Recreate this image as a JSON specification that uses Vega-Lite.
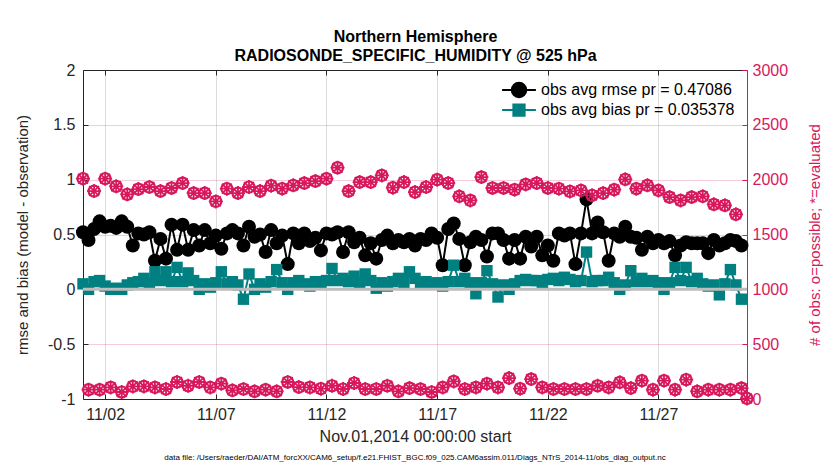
{
  "$schema": "https://vega.github.io/schema/vega-lite/v6.json",
  "width": 664,
  "height": 329,
  "autosize": {"type": "none"},
  "padding": {"left": 83, "top": 70, "right": 83, "bottom": 71},
  "background": "white",
  "config": {
    "font": "Liberation Sans",
    "view": {"stroke": null},
    "axis": {"labelFont": "Liberation Sans", "titleFont": "Liberation Sans"}
  },
  "title": {
    "text": "data file: /Users/raeder/DAI/ATM_forcXX/CAM6_setup/f.e21.FHIST_BGC.f09_025.CAM6assim.011/Diags_NTrS_2014-11/obs_diag_output.nc",
    "orient": "bottom",
    "anchor": "middle",
    "fontSize": 8,
    "fontWeight": "normal",
    "color": "#000000",
    "offset": 10
  },
  "data": {
    "values": [
      {"t": "2014-11-01T00:00:00Z", "rmse": 0.52, "bias": 0.05, "count": 2009},
      {"t": "2014-11-01T06:00:00Z", "rmse": 0.45, "bias": 0.0, "count": 85},
      {"t": "2014-11-01T12:00:00Z", "rmse": 0.55, "bias": 0.07, "count": 1896},
      {"t": "2014-11-01T18:00:00Z", "rmse": 0.62, "bias": 0.08, "count": 85},
      {"t": "2014-11-02T00:00:00Z", "rmse": 0.57, "bias": 0.03, "count": 2009},
      {"t": "2014-11-02T06:00:00Z", "rmse": 0.58, "bias": 0.0, "count": 106},
      {"t": "2014-11-02T12:00:00Z", "rmse": 0.56, "bias": 0.01, "count": 1939},
      {"t": "2014-11-02T18:00:00Z", "rmse": 0.62, "bias": 0.0, "count": 64},
      {"t": "2014-11-03T00:00:00Z", "rmse": 0.57, "bias": 0.04, "count": 1866},
      {"t": "2014-11-03T06:00:00Z", "rmse": 0.40, "bias": 0.06, "count": 115},
      {"t": "2014-11-03T12:00:00Z", "rmse": 0.51, "bias": 0.07, "count": 1914},
      {"t": "2014-11-03T18:00:00Z", "rmse": 0.50, "bias": 0.10, "count": 115},
      {"t": "2014-11-04T00:00:00Z", "rmse": 0.52, "bias": 0.06, "count": 1933},
      {"t": "2014-11-04T06:00:00Z", "rmse": 0.26, "bias": 0.16, "count": 106},
      {"t": "2014-11-04T12:00:00Z", "rmse": 0.46, "bias": 0.08, "count": 1896},
      {"t": "2014-11-04T18:00:00Z", "rmse": 0.28, "bias": 0.16, "count": 91},
      {"t": "2014-11-05T00:00:00Z", "rmse": 0.59, "bias": 0.07, "count": 1924},
      {"t": "2014-11-05T06:00:00Z", "rmse": 0.36, "bias": 0.20, "count": 155},
      {"t": "2014-11-05T12:00:00Z", "rmse": 0.59, "bias": 0.07, "count": 1969},
      {"t": "2014-11-05T18:00:00Z", "rmse": 0.36, "bias": 0.15, "count": 121},
      {"t": "2014-11-06T00:00:00Z", "rmse": 0.54, "bias": 0.08, "count": 1878},
      {"t": "2014-11-06T06:00:00Z", "rmse": 0.40, "bias": 0.0, "count": 155},
      {"t": "2014-11-06T12:00:00Z", "rmse": 0.54, "bias": 0.05, "count": 1878},
      {"t": "2014-11-06T18:00:00Z", "rmse": 0.42, "bias": 0.02, "count": 106},
      {"t": "2014-11-07T00:00:00Z", "rmse": 0.49, "bias": 0.06, "count": 1802},
      {"t": "2014-11-07T06:00:00Z", "rmse": 0.37, "bias": 0.16, "count": 140},
      {"t": "2014-11-07T12:00:00Z", "rmse": 0.51, "bias": 0.05, "count": 1918},
      {"t": "2014-11-07T18:00:00Z", "rmse": 0.54, "bias": 0.07, "count": 79},
      {"t": "2014-11-08T00:00:00Z", "rmse": 0.51, "bias": 0.04, "count": 1878},
      {"t": "2014-11-08T06:00:00Z", "rmse": 0.40, "bias": -0.09, "count": 91},
      {"t": "2014-11-08T12:00:00Z", "rmse": 0.57, "bias": 0.14, "count": 1933},
      {"t": "2014-11-08T18:00:00Z", "rmse": 0.48, "bias": 0.0, "count": 70},
      {"t": "2014-11-09T00:00:00Z", "rmse": 0.50, "bias": 0.05, "count": 1896},
      {"t": "2014-11-09T06:00:00Z", "rmse": 0.34, "bias": 0.02, "count": 85},
      {"t": "2014-11-09T12:00:00Z", "rmse": 0.54, "bias": 0.07, "count": 1945},
      {"t": "2014-11-09T18:00:00Z", "rmse": 0.42, "bias": 0.18, "count": 70},
      {"t": "2014-11-10T00:00:00Z", "rmse": 0.49, "bias": 0.06, "count": 1918},
      {"t": "2014-11-10T06:00:00Z", "rmse": 0.23, "bias": 0.0, "count": 155},
      {"t": "2014-11-10T12:00:00Z", "rmse": 0.51, "bias": 0.06, "count": 1948},
      {"t": "2014-11-10T18:00:00Z", "rmse": 0.42, "bias": 0.08, "count": 109},
      {"t": "2014-11-11T00:00:00Z", "rmse": 0.51, "bias": 0.05, "count": 1969},
      {"t": "2014-11-11T06:00:00Z", "rmse": 0.44, "bias": 0.03, "count": 106},
      {"t": "2014-11-11T12:00:00Z", "rmse": 0.47, "bias": 0.07, "count": 1987},
      {"t": "2014-11-11T18:00:00Z", "rmse": 0.355, "bias": 0.06, "count": 94},
      {"t": "2014-11-12T00:00:00Z", "rmse": 0.51, "bias": 0.08, "count": 2009},
      {"t": "2014-11-12T06:00:00Z", "rmse": 0.50, "bias": 0.19, "count": 121},
      {"t": "2014-11-12T12:00:00Z", "rmse": 0.52, "bias": 0.08, "count": 2109},
      {"t": "2014-11-12T18:00:00Z", "rmse": 0.34, "bias": 0.10, "count": 91},
      {"t": "2014-11-13T00:00:00Z", "rmse": 0.52, "bias": 0.07, "count": 1896},
      {"t": "2014-11-13T06:00:00Z", "rmse": 0.43, "bias": 0.12, "count": 146},
      {"t": "2014-11-13T12:00:00Z", "rmse": 0.47, "bias": 0.06, "count": 1978},
      {"t": "2014-11-13T18:00:00Z", "rmse": 0.31, "bias": 0.14, "count": 91},
      {"t": "2014-11-14T00:00:00Z", "rmse": 0.42, "bias": 0.08, "count": 1978},
      {"t": "2014-11-14T06:00:00Z", "rmse": 0.28, "bias": 0.01, "count": 91},
      {"t": "2014-11-14T12:00:00Z", "rmse": 0.45, "bias": 0.06, "count": 2039},
      {"t": "2014-11-14T18:00:00Z", "rmse": 0.49, "bias": 0.03, "count": 121},
      {"t": "2014-11-15T00:00:00Z", "rmse": 0.42, "bias": 0.07, "count": 1927},
      {"t": "2014-11-15T06:00:00Z", "rmse": 0.45, "bias": 0.10, "count": 70},
      {"t": "2014-11-15T12:00:00Z", "rmse": 0.43, "bias": 0.06, "count": 1978},
      {"t": "2014-11-15T18:00:00Z", "rmse": 0.46, "bias": 0.16, "count": 100},
      {"t": "2014-11-16T00:00:00Z", "rmse": 0.40, "bias": 0.10, "count": 1887},
      {"t": "2014-11-16T06:00:00Z", "rmse": 0.46, "bias": 0.06, "count": 91},
      {"t": "2014-11-16T12:00:00Z", "rmse": 0.45, "bias": 0.07, "count": 1933},
      {"t": "2014-11-16T18:00:00Z", "rmse": 0.51, "bias": 0.05, "count": 64},
      {"t": "2014-11-17T00:00:00Z", "rmse": 0.47, "bias": 0.06, "count": 2000},
      {"t": "2014-11-17T06:00:00Z", "rmse": 0.22, "bias": 0.03, "count": 106},
      {"t": "2014-11-17T12:00:00Z", "rmse": 0.55, "bias": 0.07, "count": 1969},
      {"t": "2014-11-17T18:00:00Z", "rmse": 0.60, "bias": 0.22, "count": 160},
      {"t": "2014-11-18T00:00:00Z", "rmse": 0.46, "bias": 0.07, "count": 1848},
      {"t": "2014-11-18T06:00:00Z", "rmse": 0.22, "bias": 0.10, "count": 91},
      {"t": "2014-11-18T12:00:00Z", "rmse": 0.43, "bias": 0.06, "count": 1811},
      {"t": "2014-11-18T18:00:00Z", "rmse": 0.48, "bias": -0.04, "count": 106},
      {"t": "2014-11-19T00:00:00Z", "rmse": 0.45, "bias": 0.06, "count": 2024},
      {"t": "2014-11-19T06:00:00Z", "rmse": 0.30, "bias": 0.17, "count": 140},
      {"t": "2014-11-19T12:00:00Z", "rmse": 0.51, "bias": 0.05, "count": 1924},
      {"t": "2014-11-19T18:00:00Z", "rmse": 0.51, "bias": -0.07, "count": 106},
      {"t": "2014-11-20T00:00:00Z", "rmse": 0.45, "bias": 0.04, "count": 1924},
      {"t": "2014-11-20T06:00:00Z", "rmse": 0.28, "bias": 0.0, "count": 191},
      {"t": "2014-11-20T12:00:00Z", "rmse": 0.45, "bias": 0.05, "count": 1909},
      {"t": "2014-11-20T18:00:00Z", "rmse": 0.28, "bias": 0.08, "count": 94},
      {"t": "2014-11-21T00:00:00Z", "rmse": 0.48, "bias": 0.09, "count": 1957},
      {"t": "2014-11-21T06:00:00Z", "rmse": 0.39, "bias": 0.08, "count": 182},
      {"t": "2014-11-21T12:00:00Z", "rmse": 0.48, "bias": 0.08, "count": 1969},
      {"t": "2014-11-21T18:00:00Z", "rmse": 0.31, "bias": 0.06, "count": 106},
      {"t": "2014-11-22T00:00:00Z", "rmse": 0.40, "bias": 0.09, "count": 1924},
      {"t": "2014-11-22T06:00:00Z", "rmse": 0.26, "bias": 0.10, "count": 91},
      {"t": "2014-11-22T12:00:00Z", "rmse": 0.51, "bias": 0.08, "count": 1918},
      {"t": "2014-11-22T18:00:00Z", "rmse": 0.49, "bias": 0.11, "count": 91},
      {"t": "2014-11-23T00:00:00Z", "rmse": 0.51, "bias": 0.09, "count": 1893},
      {"t": "2014-11-23T06:00:00Z", "rmse": 0.23, "bias": 0.07, "count": 91},
      {"t": "2014-11-23T12:00:00Z", "rmse": 0.51, "bias": 0.08, "count": 1902},
      {"t": "2014-11-23T18:00:00Z", "rmse": 0.82, "bias": 0.34, "count": 91},
      {"t": "2014-11-24T00:00:00Z", "rmse": 0.51, "bias": 0.07, "count": 1857},
      {"t": "2014-11-24T06:00:00Z", "rmse": 0.61, "bias": 0.08, "count": 121},
      {"t": "2014-11-24T12:00:00Z", "rmse": 0.52, "bias": 0.08, "count": 1878},
      {"t": "2014-11-24T18:00:00Z", "rmse": 0.26, "bias": 0.11, "count": 106},
      {"t": "2014-11-25T00:00:00Z", "rmse": 0.51, "bias": 0.06, "count": 1909},
      {"t": "2014-11-25T06:00:00Z", "rmse": 0.48, "bias": 0.0, "count": 152},
      {"t": "2014-11-25T12:00:00Z", "rmse": 0.57, "bias": 0.04, "count": 2003},
      {"t": "2014-11-25T18:00:00Z", "rmse": 0.48, "bias": 0.17, "count": 100},
      {"t": "2014-11-26T00:00:00Z", "rmse": 0.47, "bias": 0.07, "count": 1918},
      {"t": "2014-11-26T06:00:00Z", "rmse": 0.36, "bias": 0.10, "count": 167},
      {"t": "2014-11-26T12:00:00Z", "rmse": 0.48, "bias": 0.07, "count": 1948},
      {"t": "2014-11-26T18:00:00Z", "rmse": 0.42, "bias": 0.08, "count": 85},
      {"t": "2014-11-27T00:00:00Z", "rmse": 0.45, "bias": 0.06, "count": 1902},
      {"t": "2014-11-27T06:00:00Z", "rmse": 0.42, "bias": 0.0, "count": 167},
      {"t": "2014-11-27T12:00:00Z", "rmse": 0.44, "bias": 0.06, "count": 1841},
      {"t": "2014-11-27T18:00:00Z", "rmse": 0.31, "bias": 0.20, "count": 85},
      {"t": "2014-11-28T00:00:00Z", "rmse": 0.40, "bias": 0.08, "count": 1811},
      {"t": "2014-11-28T06:00:00Z", "rmse": 0.43, "bias": 0.20, "count": 176},
      {"t": "2014-11-28T12:00:00Z", "rmse": 0.42, "bias": 0.07, "count": 1841},
      {"t": "2014-11-28T18:00:00Z", "rmse": 0.42, "bias": 0.10, "count": 70},
      {"t": "2014-11-29T00:00:00Z", "rmse": 0.42, "bias": 0.05, "count": 1848},
      {"t": "2014-11-29T06:00:00Z", "rmse": 0.33, "bias": 0.03, "count": 85},
      {"t": "2014-11-29T12:00:00Z", "rmse": 0.45, "bias": 0.04, "count": 1775},
      {"t": "2014-11-29T18:00:00Z", "rmse": 0.40, "bias": -0.05, "count": 85},
      {"t": "2014-11-30T00:00:00Z", "rmse": 0.42, "bias": 0.05, "count": 1766},
      {"t": "2014-11-30T06:00:00Z", "rmse": 0.45, "bias": 0.18, "count": 85},
      {"t": "2014-11-30T12:00:00Z", "rmse": 0.44, "bias": 0.04, "count": 1684},
      {"t": "2014-11-30T18:00:00Z", "rmse": 0.40, "bias": -0.09, "count": 100},
      {"t": "2014-12-01T00:00:00Z", "rmse": null, "bias": null, "count": 5}
    ]
  },
  "layer": [
    {
      "layer": [
        {
          "transform": [{"fold": ["rmse", "bias"], "as": ["series", "value"]}],
          "encoding": {
            "x": {
              "field": "t",
              "type": "temporal",
              "scale": {"type": "utc", "domain": [1414800000000, 1417392000000]},
              "axis": {
                "orient": "bottom",
                "values": [1414886400000, 1415318400000, 1415750400000, 1416182400000, 1416614400000, 1417046400000],
                "labelExpr": "utcFormat(datum.value, '%m/%d')",
                "title": "Nov.01,2014 00:00:00 start",
                "grid": true,
                "gridColor": "#dcdcdc",
                "gridWidth": 1,
                "tickSize": -5,
                "tickColor": "#262626",
                "domainColor": "#262626",
                "labelFontSize": 16,
                "labelColor": "#262626",
                "labelPadding": 12,
                "labelFlush": false,
                "titleFontSize": 16,
                "titleFontWeight": "normal",
                "titleColor": "#262626",
                "titlePadding": 6
              }
            },
            "y": {
              "field": "value",
              "type": "quantitative",
              "scale": {"domain": [-1, 2], "nice": false, "zero": false},
              "axis": {
                "orient": "left",
                "values": [-1, -0.5, 0, 0.5, 1, 1.5, 2],
                "labelExpr": "'' + datum.value",
                "grid": false,
                "tickSize": -5,
                "tickColor": "#262626",
                "domainColor": "#262626",
                "labelFontSize": 16,
                "labelColor": "#262626",
                "labelPadding": 13,
                "title": "rmse and bias (model - observation)",
                "titleFontSize": 15,
                "titleFontWeight": "normal",
                "titleColor": "#262626",
                "titlePadding": 17
              }
            },
            "color": {
              "field": "series",
              "type": "nominal",
              "scale": {"domain": ["rmse", "bias"], "range": ["#000000", "#008080"]},
              "legend": {
                "title": null,
                "orient": "top-right",
                "offset": 12,
                "padding": 0,
                "labelFontSize": 16,
                "labelColor": "#000000",
                "labelLimit": 400,
                "labelExpr": "datum.value == 'rmse' ? 'obs avg rmse pr = 0.47086' : 'obs avg bias pr = 0.035378'",
                "symbolSize": 169,
                "symbolOffset": 10,
                "labelOffset": 14,
                "rowPadding": -2,
                "encode": {
                  "symbols": {
                    "update": {
                      "shape": {"signal": "datum.value == 'rmse' ? 'M-2.6,0L2.6,0M-1.1,0A1.1,1.1 0 1,0 1.1,0A1.1,1.1 0 1,0 -1.1,0Z' : 'M-2.6,0L2.6,0M-0.85,-0.85L0.85,-0.85L0.85,0.85L-0.85,0.85Z'"},
                      "fill": {"signal": "datum.value == 'rmse' ? '#000000' : '#008080'"},
                      "stroke": {"signal": "datum.value == 'rmse' ? '#000000' : '#008080'"},
                      "strokeWidth": {"value": 2.2},
                      "opacity": {"value": 1},
                      "fillOpacity": {"value": 1}
                    }
                  }
                }
              }
            }
          },
          "layer": [
            {"mark": {"type": "line", "strokeWidth": 2}},
            {
              "transform": [{"filter": "datum.series == 'rmse'"}],
              "mark": {"type": "point", "shape": "circle", "filled": true, "opacity": 1, "size": 196}
            },
            {
              "transform": [{"filter": "datum.series == 'bias'"}],
              "mark": {"type": "point", "shape": "square", "filled": true, "opacity": 1, "size": 130}
            }
          ]
        },
        {
          "data": {"values": [{"zero": 0}]},
          "mark": {"type": "rule", "color": "#bdbdbd", "strokeWidth": 3},
          "encoding": {"y": {"field": "zero", "type": "quantitative"}}
        }
      ]
    },
    {
      "encoding": {
        "x": {
          "field": "t",
          "type": "temporal",
          "scale": {"type": "utc", "domain": [1414800000000, 1417392000000]},
          "axis": {
            "orient": "top",
            "values": [1414886400000, 1415318400000, 1415750400000, 1416182400000, 1416614400000, 1417046400000],
            "labels": false,
            "grid": false,
            "tickSize": -5,
            "tickColor": "#262626",
            "domainColor": "#262626",
            "title": ["Northern Hemisphere", "RADIOSONDE_SPECIFIC_HUMIDITY @ 525 hPa"],
            "titleFontSize": 16,
            "titleFontWeight": "bold",
            "titleColor": "#000000",
            "titleLineHeight": 19,
            "titlePadding": 6
          }
        },
        "y": {
          "field": "count",
          "type": "quantitative",
          "scale": {"domain": [0, 3000], "nice": false},
          "axis": {
            "orient": "right",
            "values": [0, 500, 1000, 1500, 2000, 2500, 3000],
            "format": "d",
            "grid": true,
            "gridColor": "#D7185C",
            "gridOpacity": 0.22,
            "tickSize": -5,
            "tickColor": "#D7185C",
            "domainColor": "#D7185C",
            "labelFontSize": 16,
            "labelColor": "#D7185C",
            "labelPadding": 10,
            "title": "# of obs: o=possible; *=evaluated",
            "titleFontSize": 15,
            "titleFontWeight": "normal",
            "titleColor": "#D7185C",
            "titleAngle": 270,
            "titleBaseline": "top",
            "titlePadding": 20
          }
        }
      },
      "layer": [
        {"mark": {"type": "point", "shape": "circle", "filled": false, "color": "#D7185C", "strokeWidth": 2.2, "size": 121, "opacity": 1}},
        {"mark": {"type": "point", "shape": "M-1,0L1,0M0,-1L0,1M-0.7,-0.7L0.7,0.7M-0.7,0.7L0.7,-0.7", "filled": false, "color": "#D7185C", "strokeWidth": 1.8, "size": 196, "opacity": 1}}
      ]
    }
  ],
  "resolve": {"scale": {"y": "independent"}, "axis": {"x": "independent", "y": "independent"}}
}
